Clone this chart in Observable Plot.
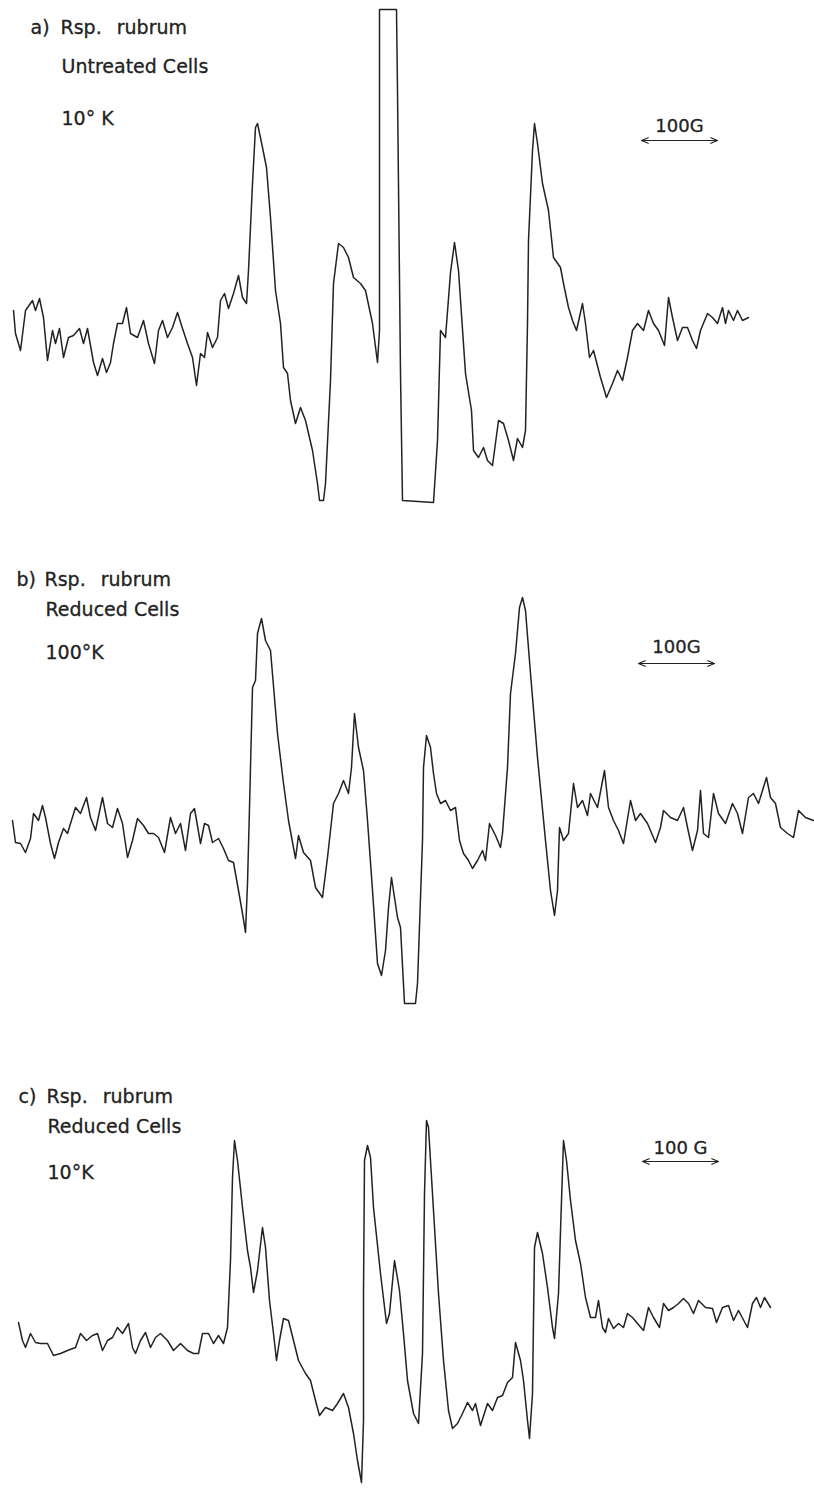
<!DOCTYPE html>
<html><head><meta charset="utf-8">
<script src="https://cdn.jsdelivr.net/npm/d3@7"></script>
<script src="https://cdn.jsdelivr.net/npm/@observablehq/plot@0.6"></script>
<style>
body{margin:0;background:#fff;}
#chart{width:814px;}
#chart svg{display:block;}
</style>
</head><body><div id="chart"></div>
<script>
// ---- Data (field position in recorder units, signal in recorder units; larger = lower on chart) ----
const fieldA = [13,15,20,25,32,35,39,43,47,52,55,59,63,68,73,79,83,87,93,97,102,106,110,113,117,122,126,130,137,143,148,154,158,162,167,172,177,182,187,192,196,200,204,207,212,217,220,224,228,233,238,242,246,248,252,255,257,262,266,270,275,280,283,287,290,295,300,305,312,317,319,323,325,330,333,338,343,348,353,360,365,372,377,379,379,396,397,400,402,433,437,440,445,450,454,458,465,471,473,478,483,487,492,498,503,508,513,517,522,525,527,528,532,534,537,542,548,553,560,563,568,572,576,582,585,589,593,600,606,612,617,622,627,632,637,643,648,653,658,664,668,672,677,682,687,692,696,700,707,712,717,722,725,728,733,737,742,748];
const signalA = [310,333,350,310,300,310,298,317,360,330,343,328,357,337,335,328,343,328,362,375,358,372,362,343,323,323,307,333,337,320,343,363,330,320,337,327,312,328,343,357,385,353,357,332,347,337,300,293,308,293,275,297,303,270,183,127,123,147,167,217,290,323,367,373,400,423,407,420,450,483,500,500,483,380,283,243,247,257,277,283,290,323,362,330,9,9,90,373,500,502,440,330,337,272,242,270,373,410,450,457,447,460,465,420,423,440,460,438,447,430,323,240,150,123,143,183,210,257,267,283,307,320,330,303,323,357,350,377,397,383,370,380,357,330,323,330,310,323,330,345,297,317,340,327,327,340,348,330,313,317,323,307,323,310,320,310,320,317];

const fieldB = [12,15,20,25,30,33,38,42,45,50,54,58,63,67,70,75,80,86,90,95,102,107,112,117,122,127,132,137,143,148,153,158,164,170,175,180,185,190,194,200,204,208,212,218,223,228,233,238,242,245,247,249,252,255,257,261,265,270,277,283,288,295,298,303,310,315,322,327,333,338,343,348,351,354,358,363,367,372,377,381,385,388,391,397,400,404,415,417,422,423,426,430,433,436,440,445,450,455,459,463,468,472,477,482,485,489,495,500,502,507,510,515,519,522,525,530,537,545,550,554,557,559,563,568,573,577,582,587,590,597,604,608,613,618,623,630,635,640,647,655,660,663,670,677,683,687,692,697,700,703,708,713,718,725,732,737,742,748,753,758,766,770,775,780,787,793,798,805,813];
const signalB = [820,842,843,852,838,813,820,805,817,843,858,842,828,833,823,807,813,797,817,830,797,823,827,808,823,857,840,818,825,833,833,837,852,817,833,823,850,813,808,843,823,825,842,838,848,860,862,890,913,932,883,807,687,680,633,618,640,650,733,783,820,858,835,852,860,887,897,857,803,793,780,793,767,713,747,770,820,890,963,975,950,907,877,917,927,1003,1003,983,840,767,735,747,773,793,803,800,810,807,840,853,860,868,860,850,860,823,835,847,833,767,693,653,607,597,610,673,757,840,890,915,890,827,840,833,783,807,800,815,793,807,770,807,820,830,843,800,820,813,823,842,827,810,817,820,807,827,850,830,790,833,837,793,813,823,803,813,833,797,793,803,777,797,803,827,833,837,810,817,820];

const fieldC = [18,22,25,30,35,40,47,53,60,67,75,80,86,92,97,102,107,112,117,122,128,132,135,140,145,150,155,160,167,173,180,187,193,198,202,208,213,218,223,227,230,232,234,237,242,247,250,253,257,262,265,269,273,276,279,283,288,293,298,305,310,315,319,325,332,337,343,348,353,357,361,363,363,364,367,370,373,380,386,389,394,399,403,407,413,418,422,424,426,428,433,438,443,448,452,457,462,467,472,475,480,487,492,497,502,507,512,515,520,523,527,529,532,534,537,542,547,552,554,558,561,563,566,570,575,580,585,590,595,598,602,605,608,613,618,623,627,632,637,643,648,653,659,663,668,673,678,683,688,693,698,705,712,716,722,728,733,738,747,752,756,760,764,770];
const signalC = [1322,1340,1347,1333,1342,1343,1343,1355,1353,1350,1347,1333,1340,1335,1333,1350,1340,1337,1327,1333,1323,1347,1353,1340,1332,1347,1337,1333,1340,1350,1343,1350,1353,1353,1333,1333,1343,1335,1343,1327,1260,1177,1140,1160,1207,1250,1267,1292,1270,1227,1247,1300,1333,1360,1340,1318,1320,1340,1360,1373,1380,1400,1415,1407,1410,1403,1393,1407,1433,1460,1482,1420,1293,1160,1145,1157,1207,1273,1323,1313,1260,1290,1333,1380,1413,1423,1353,1193,1120,1127,1210,1293,1360,1410,1428,1423,1413,1402,1410,1403,1425,1403,1410,1397,1395,1382,1377,1342,1360,1380,1420,1438,1393,1247,1232,1253,1287,1327,1338,1293,1200,1140,1160,1200,1240,1263,1297,1317,1317,1300,1327,1332,1318,1328,1323,1327,1313,1317,1323,1330,1307,1317,1327,1303,1310,1307,1303,1298,1303,1313,1300,1307,1308,1322,1307,1305,1320,1310,1327,1303,1297,1307,1297,1307];

// ---- Labels ----
const panelLetters = ["a)", "b)", "c)"];
const species = ["Rsp. rubrum", "Rsp. rubrum", "Rsp. rubrum"];
const treatments = ["Untreated Cells", "Reduced Cells", "Reduced Cells"];
const temperatures = ["10° K", "100°K", "10°K"];
const scaleLabels = ["100G", "100G", "100 G"];
const scaleBarStart = [641, 638, 642];
const scaleBarLength = 76; // = 100 G in recorder units
const scaleBarLevel = [140, 663, 1161];

// ---- Layout (page geometry only) ----
const layout = [
  {top: 0, bottom: 520, letterX: 30, textX: 60, line1: 33, line2: 72, line3: 124, scaleBase: 131},
  {top: 520, bottom: 1050, letterX: 16, textX: 44, line1: 65, line2: 95, line3: 138, scaleBase: 132},
  {top: 1050, bottom: 1501, letterX: 18, textX: 46, line1: 52, line2: 82, line3: 128, scaleBase: 103}
];
const traces = [[fieldA, signalA], [fieldB, signalB], [fieldC, signalC]];
const ink = "#222";
const font = "'DejaVu Sans', sans-serif";

const chart = document.getElementById("chart");
layout.forEach((L, p) => {
  const [fx, sy] = traces[p];
  const idx = d3.range(fx.length);
  const txt = (s, dx, dy, size = 19, anchor = "start") => Plot.text([s], {
    text: d => d, frameAnchor: "top-left", dx, dy, lineAnchor: "bottom",
    textAnchor: anchor, fontSize: size, fill: ink, stroke: ink, strokeWidth: 0.3
  });
  const mid = scaleBarStart[p] + scaleBarLength / 2;
  const halves = [
    {x1: mid, x2: scaleBarStart[p], y: scaleBarLevel[p]},
    {x1: mid, x2: scaleBarStart[p] + scaleBarLength, y: scaleBarLevel[p]}
  ];
  const svg = Plot.plot({
    width: 814,
    height: L.bottom - L.top,
    margin: 0,
    x: {domain: [0, 814], axis: null},
    y: {domain: [L.top, L.bottom], reverse: true, axis: null},
    style: {fontFamily: font, background: "#fff", overflow: "visible"},
    marks: [
      Plot.line(idx, {x: i => fx[i], y: i => sy[i], stroke: ink, strokeWidth: 1.5, strokeLinejoin: "round"}),
      Plot.arrow(halves, {x1: "x1", x2: "x2", y1: "y", y2: "y", stroke: ink, strokeWidth: 1.2, headLength: 9, headAngle: 45}),
      txt(panelLetters[p], L.letterX, L.line1),
      txt(species[p], L.textX, L.line1),
      txt(treatments[p], L.textX + 1, L.line2),
      txt(temperatures[p], L.textX + 1, L.line3),
      txt(scaleLabels[p], mid, L.scaleBase, 18, "middle")
    ]
  });
  // wider gap between genus and species, as lettered in the original
  d3.select(svg).selectAll("text").filter(function() { return this.textContent === species[p]; })
    .style("word-spacing", "9px");
  chart.appendChild(svg);
});
</script>
</body></html>
